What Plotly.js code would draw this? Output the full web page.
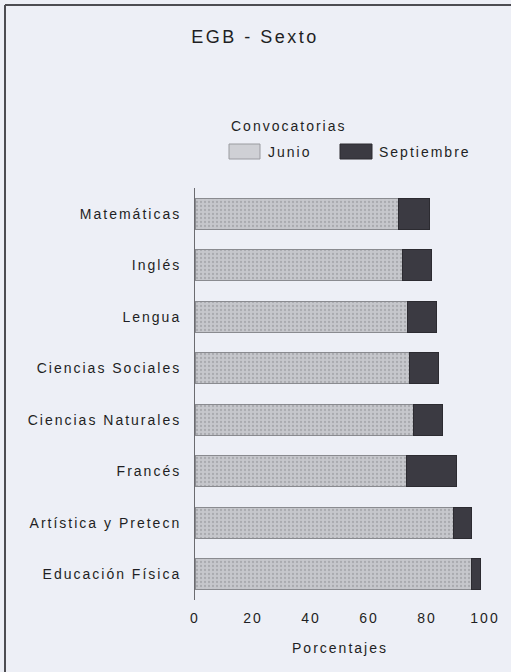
<!DOCTYPE html>
<html>
<head>
<meta charset="utf-8">
<script src="https://cdn.plot.ly/plotly-3.0.1.min.js"></script>
<style>
  html, body { margin: 0; padding: 0; background: #edeff6; }
  #chart { width: 511px; height: 672px; }
  .main-svg text { letter-spacing: 2px; }
  .main-svg .gtitle { letter-spacing: 2.5px; }
</style>
</head>
<body>
<div id="chart"></div>
<script>
// Data
const categories = ["Matemáticas", "Inglés", "Lengua", "Ciencias Sociales", "Ciencias Naturales", "Francés", "Artística y Pretecn", "Educación Física"];
const junio = [70.0, 71.7, 73.4, 74.1, 75.2, 73.1, 89.3, 95.5];
const septiembre = [10.7, 10.0, 10.0, 10.0, 10.0, 16.9, 6.2, 3.1];
const xTicks = [0, 20, 40, 60, 80, 100];
const seriesNames = ["Junio", "Septiembre"];
const legendTitle = "Convocatorias";
const chartTitle = "EGB - Sexto";
const xTitle = "Porcentajes";

const W = 511, H = 672;
const M = {l: 195, r: 26, t: 188, b: 72};
const pw = W - M.l - M.r, ph = H - M.t - M.b;
const px = v => (v - M.l) / pw;           // pixel x -> paper x
const py = v => (H - M.b - v) / ph;       // pixel y -> paper y

const juneColor = '#c6c7cc', septColor = '#3b3a42', textColor = '#1f1f24';
const font = {family: 'Liberation Sans, Arial, sans-serif', size: 14, color: textColor};

const traces = [
  {
    type: 'bar', orientation: 'h', name: seriesNames[0],
    y: categories, x: junio,
    marker: {
      color: juneColor,
      line: {color: '#8a8b90', width: 1},
      pattern: {shape: '.', bgcolor: juneColor, fgcolor: '#a9aaaf', size: 4, solidity: 0.25}
    },
    hoverinfo: 'x+y'
  },
  {
    type: 'bar', orientation: 'h', name: seriesNames[1],
    y: categories, x: septiembre,
    marker: {color: septColor, line: {color: '#2c2b31', width: 1}},
    hoverinfo: 'x+y'
  }
];

// letter-spacing is applied by CSS after Plotly measures text; compensate left-anchored annotations
const lsShift = s => s.length * 1;

const layout = {
  width: W, height: H,
  margin: M,
  paper_bgcolor: '#edeff6', plot_bgcolor: '#edeff6',
  barmode: 'stack', bargap: 0.4,
  showlegend: false,
  font: font,
  title: {text: chartTitle, x: 255 / W, xanchor: 'center', y: 1 - 37 / H, yanchor: 'middle',
          font: {family: font.family, size: 18, color: textColor}},
  xaxis: {
    range: [0, 100], tickvals: xTicks, ticktext: xTicks.map(String),
    showgrid: false, zeroline: false, showline: false, ticks: '',
    ticklabelstandoff: 8,
    tickfont: font,
    title: {text: xTitle, font: font, standoff: 18}
  },
  yaxis: {
    type: 'category', categoryorder: 'array', categoryarray: categories,
    range: [categories.length - 0.5, -0.5],
    showgrid: false, zeroline: false, showline: true, linecolor: '#6b6b70', linewidth: 1,
    ticks: '', ticklabelstandoff: 10,
    tickfont: font
  },
  shapes: [
    // frame of the original figure (top and left edges)
    {type: 'line', xref: 'paper', yref: 'paper', x0: px(5), x1: px(530), y0: py(5), y1: py(5),
     line: {color: '#4d4d52', width: 2}},
    {type: 'line', xref: 'paper', yref: 'paper', x0: px(5), x1: px(5), y0: py(5), y1: py(690),
     line: {color: '#4d4d52', width: 2}},
    // legend swatches
    {type: 'rect', xref: 'paper', yref: 'paper', x0: px(229), x1: px(260), y0: py(159), y1: py(144),
     fillcolor: '#cfd0d5', line: {color: '#9a9ba0', width: 1}},
    {type: 'rect', xref: 'paper', yref: 'paper', x0: px(340), x1: px(372), y0: py(159), y1: py(144),
     fillcolor: septColor, line: {color: '#2c2b31', width: 1}}
  ],
  annotations: [
    {text: legendTitle, xref: 'paper', yref: 'paper', x: px(229 + lsShift(legendTitle)), y: py(126), xanchor: 'left', yanchor: 'middle',
     showarrow: false, font: font},
    {text: seriesNames[0], xref: 'paper', yref: 'paper', x: px(266 + lsShift(seriesNames[0])), y: py(152), xanchor: 'left', yanchor: 'middle',
     showarrow: false, font: font},
    {text: seriesNames[1], xref: 'paper', yref: 'paper', x: px(377 + lsShift(seriesNames[1])), y: py(152), xanchor: 'left', yanchor: 'middle',
     showarrow: false, font: font}
  ]
};

Plotly.newPlot('chart', traces, layout, {displayModeBar: false, staticPlot: true});
</script>
</body>
</html>
